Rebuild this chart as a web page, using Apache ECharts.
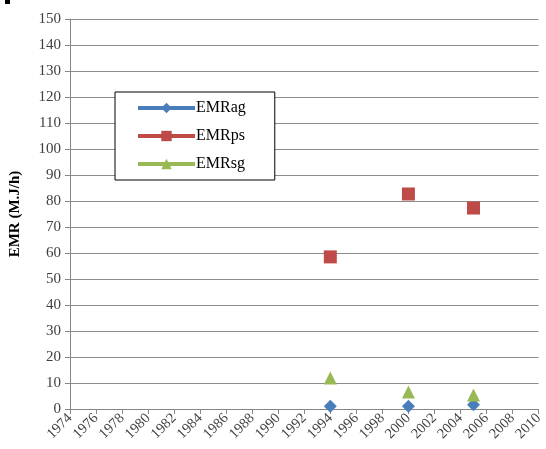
<!DOCTYPE html>
<html><head><meta charset="utf-8">
<script src="https://cdn.jsdelivr.net/npm/echarts@6/dist/echarts.min.js"></script>
<style>html,body{margin:0;padding:0;background:#fff}#c{width:546px;height:449px}</style>
</head><body><div id="c"></div>
<script>
const years = [1994, 2000, 2005];
const emrAg = [1.1, 1.1, 1.6];
const emrPs = [58.5, 82.7, 77.3];
const emrSg = [11.9, 6.5, 5.4];
const seriesNames = ['EMRag', 'EMRps', 'EMRsg'];
const colors = ['#4a7ebb', '#be4b48', '#98b954'];
const symbols = ['diamond', 'rect', 'triangle'];
const symbolSizes = [13, 13, 13];
const yTitle = 'EMR (M.J/h)';

const chart = echarts.init(document.getElementById('c'));
const data = [emrAg, emrPs, emrSg];
const font = 'Liberation Serif, Times New Roman, serif';
chart.setOption({
  animation: false,
  grid: {left: 70, right: 5, top: 19, bottom: 40},
  legend: {
    orient: 'vertical', left: 115, top: 92,
    padding: [8, 29, 8, 21],
    borderColor: '#000', borderWidth: 1, backgroundColor: '#fff',
    itemWidth: 57, itemHeight: 13, itemGap: 12,
    textStyle: {fontFamily: font, fontSize: 16, color: '#000', padding: [0,0,0,-4]},
    lineStyle: {width: 4, opacity: 1},
    data: seriesNames
  },
  graphic: [{type: 'rect', shape: {x: 5, y: 0, width: 5, height: 4}, style: {fill: '#000'}}],
  xAxis: {
    type: 'value', min: 1974, max: 2010, interval: 2,
    axisLine: {lineStyle: {color: '#868686'}},
    axisTick: {show: true, length: 5, lineStyle: {color: '#868686'}},
    splitLine: {show: false},
    axisLabel: {rotate: 45, fontFamily: font, fontSize: 14.5, color: '#404040', margin: 7, formatter: v => String(v)}
  },
  yAxis: {
    type: 'value', min: 0, max: 150, interval: 10,
    name: yTitle, nameLocation: 'middle', nameGap: 47,
    nameTextStyle: {fontFamily: font, fontSize: 15, fontWeight: 'bold', color: '#000'},
    axisLine: {show: true, lineStyle: {color: '#868686'}},
    axisTick: {show: true, length: 5, lineStyle: {color: '#868686'}},
    splitLine: {lineStyle: {color: '#8c8c8c'}},
    axisLabel: {fontFamily: font, fontSize: 15, color: '#404040', margin: 9}
  },
  series: seriesNames.map((n, i) => ({
    name: n, type: 'line',
    data: years.map((y, j) => [y, data[i][j]]),
    symbol: symbols[i], symbolSize: symbolSizes[i], showAllSymbol: true,
    color: colors[i],
    itemStyle: {color: colors[i]},
    lineStyle: {width: 4, opacity: 0, color: colors[i]},
    z: 3 + i
  }))
});
</script></body></html>
